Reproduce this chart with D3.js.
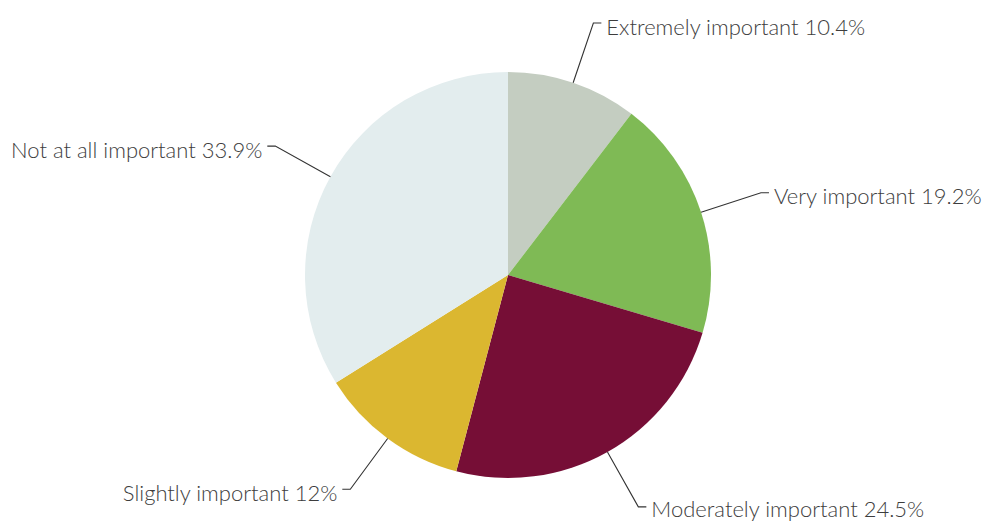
<!DOCTYPE html>
<html>
<head>
<meta charset="utf-8">
<script src="https://cdn.jsdelivr.net/npm/d3@7"></script>
<style>
  html, body { margin: 0; padding: 0; background: #ffffff; }
  svg { display: block; }
</style>
</head>
<body>
<svg id="chart" width="986" height="523"></svg>
<script>
// Survey answers and their shares (percent)
const categories = ["Extremely important", "Very important", "Moderately important", "Slightly important", "Not at all important"];
const values = [10.4, 19.2, 24.5, 12, 33.9];
const valueLabels = ["10.4%", "19.2%", "24.5%", "12%", "33.9%"];
const colors = ["#c4cdc1", "#7fba55", "#760e36", "#dbb730", "#e3edee"];

const width = 986, height = 523;
const cx = 508, cy = 275;
const radius = 203;
const elbowRadius = 266;
const stub = 8, textGap = 5;

const svg = d3.select("#chart");
const g = svg.append("g").attr("transform", `translate(${cx},${cy})`);

const data = categories.map((c, i) => ({ name: c, value: values[i], label: valueLabels[i], color: colors[i] }));

const pie = d3.pie().value(d => d.value).sort(null);
const arcs = pie(data);
const arc = d3.arc().innerRadius(0).outerRadius(radius);

g.selectAll("path.slice")
  .data(arcs)
  .join("path")
  .attr("class", "slice")
  .attr("d", arc)
  .attr("fill", d => d.data.color);

// Leader lines: from slice edge out to an elbow, then a short horizontal stub
function polar(r, a) { return [r * Math.sin(a), -r * Math.cos(a)]; }

// Keep label descenders inside the drawing area
const maxBaseline = height - cy - 6;

arcs.forEach(d => {
  const mid = (d.startAngle + d.endAngle) / 2;
  const right = Math.sin(mid) >= 0;
  const p0 = polar(radius, mid);
  const p1 = polar(elbowRadius, mid);
  const p2 = [p1[0] + (right ? stub : -stub), p1[1]];
  g.append("path")
    .attr("d", d3.line()([p0, p1, p2]))
    .attr("fill", "none")
    .attr("stroke", "#333")
    .attr("stroke-width", 1.1);
  g.append("text")
    .attr("x", p2[0] + (right ? textGap : -textGap))
    .attr("y", Math.min(p2[1] + 11.5, maxBaseline))
    .attr("text-anchor", right ? "start" : "end")
    .attr("font-family", "Lato, 'Open Sans', sans-serif")
    .attr("font-weight", 300)
    .attr("font-size", 22)
    .attr("fill", "#3d3d3d")
    .text(`${d.data.name} ${d.data.label}`);
});
</script>
</body>
</html>
